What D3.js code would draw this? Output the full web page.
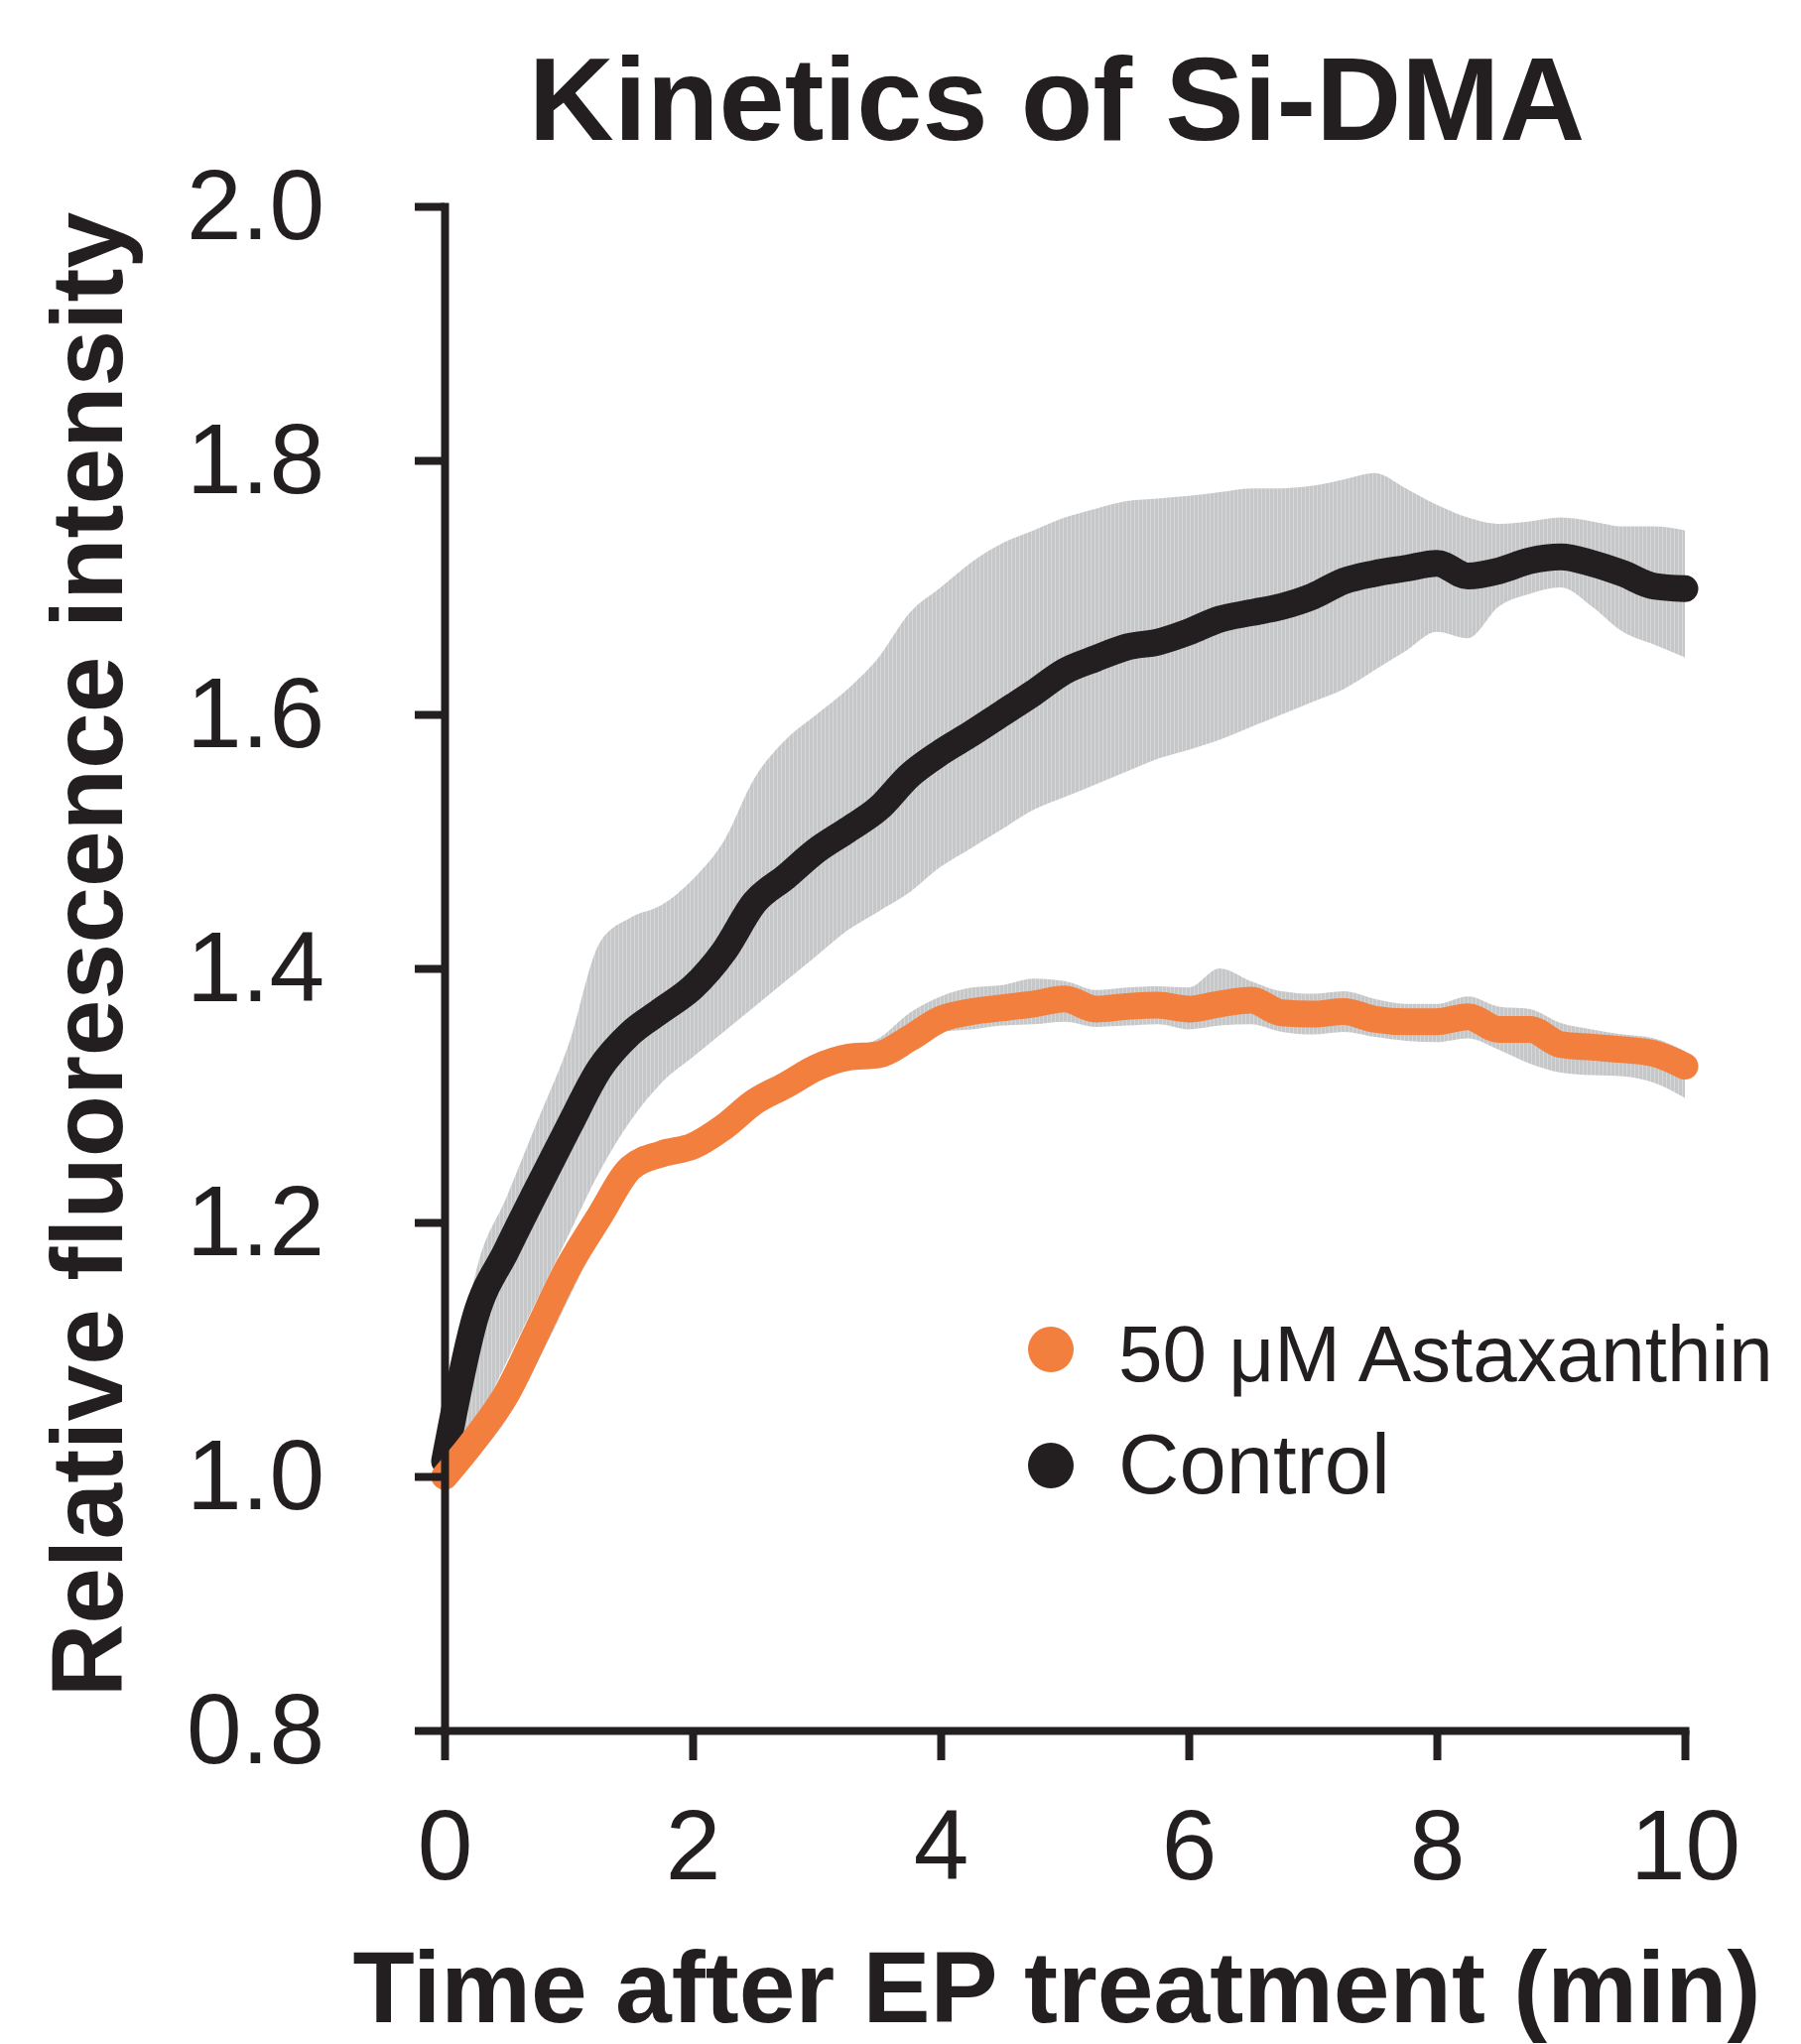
<!DOCTYPE html>
<html>
<head>
<meta charset="utf-8">
<script src="https://cdn.jsdelivr.net/npm/d3@7"></script>
<style>
  body { margin: 0; background: #fff; }
  text { font-family: "Liberation Sans", Arial, Helvetica, sans-serif; fill: #231f20; }
</style>
</head>
<body>
<div id="chart"></div>
<script>
// tempo (min)
const tempos = [0, 0.25, 0.5, 0.75, 1, 1.25, 1.5, 1.75, 2, 2.25, 2.5, 2.75, 3, 3.25, 3.5, 3.75, 4, 4.25, 4.5, 4.75,
  5, 5.25, 5.5, 5.75, 6, 6.25, 6.5, 6.75, 7, 7.25, 7.5, 7.75, 8, 8.25, 8.5, 8.75, 9, 9.25, 9.5, 9.75, 10];

// controle: media, limite superior, limite inferior
const controleMedia = [1.012, 1.126, 1.178, 1.227, 1.275, 1.321, 1.349, 1.367, 1.385, 1.413, 1.452, 1.472, 1.493, 1.509, 1.526, 1.552, 1.570, 1.585, 1.601, 1.617,
  1.634, 1.644, 1.653, 1.657, 1.665, 1.675, 1.680, 1.685, 1.693, 1.705, 1.711, 1.715, 1.719, 1.709, 1.713, 1.721, 1.724, 1.719, 1.711, 1.701, 1.699];
const controleSup = [1.02, 1.16, 1.22, 1.28, 1.34, 1.42, 1.44, 1.45, 1.47, 1.50, 1.55, 1.58, 1.60, 1.62, 1.645, 1.68, 1.70, 1.72, 1.735, 1.745,
  1.755, 1.762, 1.768, 1.770, 1.772, 1.775, 1.778, 1.778, 1.780, 1.785, 1.790, 1.778, 1.765, 1.755, 1.75, 1.752, 1.755, 1.752, 1.748, 1.748, 1.745];
const controleInf = [1.00, 1.04, 1.09, 1.14, 1.19, 1.24, 1.28, 1.31, 1.33, 1.35, 1.37, 1.39, 1.41, 1.43, 1.445, 1.46, 1.48, 1.495, 1.51, 1.525,
  1.535, 1.545, 1.555, 1.565, 1.572, 1.58, 1.59, 1.60, 1.61, 1.62, 1.635, 1.65, 1.665, 1.66, 1.685, 1.695, 1.70, 1.685, 1.665, 1.655, 1.645];

// 50 uM astaxantina
const astaMedia = [1.00, 1.03, 1.065, 1.115, 1.165, 1.205, 1.243, 1.254, 1.26, 1.275, 1.295, 1.308, 1.322, 1.33, 1.332, 1.345, 1.36, 1.366, 1.369, 1.372,
  1.376, 1.368, 1.37, 1.371, 1.368, 1.372, 1.375, 1.365, 1.364, 1.366, 1.36, 1.358, 1.358, 1.362, 1.352, 1.352, 1.34, 1.338, 1.336, 1.333, 1.323];
const astaSup = [1.005, 1.04, 1.075, 1.12, 1.17, 1.21, 1.248, 1.26, 1.265, 1.282, 1.302, 1.315, 1.33, 1.338, 1.345, 1.365, 1.378, 1.385, 1.387, 1.392,
  1.39, 1.383, 1.385, 1.386, 1.385, 1.40, 1.39, 1.382, 1.38, 1.382, 1.376, 1.372, 1.372, 1.378, 1.37, 1.368, 1.357, 1.352, 1.348, 1.345, 1.335];
const astaInf = [0.995, 1.015, 1.045, 1.09, 1.14, 1.19, 1.235, 1.248, 1.255, 1.268, 1.288, 1.302, 1.315, 1.322, 1.325, 1.338, 1.35, 1.352, 1.355, 1.356,
  1.358, 1.354, 1.355, 1.356, 1.352, 1.355, 1.356, 1.35, 1.348, 1.35, 1.346, 1.343, 1.342, 1.345, 1.336, 1.325, 1.318, 1.316, 1.315, 1.31, 1.298];

const ticksX = [0, 2, 4, 6, 8, 10];
const ticksY = [0.8, 1.0, 1.2, 1.4, 1.6, 1.8, 2.0];
const legendas = ["50 μM Astaxanthin", "Control"];
const cores = ["#f27f3d", "#231f20"];

const width = 1815, height = 2060;
const svg = d3.select("#chart").append("svg")
  .attr("width", width).attr("height", height);

const x = d3.scaleLinear().domain([0, 10]).range([448, 1698]);
const y = d3.scaleLinear().domain([0.8, 2.0]).range([1744, 208]);

const controle = tempos.map((t, i) => ({ t, m: controleMedia[i], s: controleSup[i], inf: controleInf[i] }));
const asta = tempos.map((t, i) => ({ t, m: astaMedia[i], s: astaSup[i], inf: astaInf[i] }));

// textura das barras de erro
const defs = svg.append("defs");
const pat = defs.append("pattern").attr("id", "barras")
  .attr("patternUnits", "userSpaceOnUse").attr("width", 4).attr("height", 10);
pat.append("rect").attr("width", 4).attr("height", 10).attr("fill", "#c6c7c9");
pat.append("rect").attr("x", 3).attr("width", 1).attr("height", 10).attr("fill", "#d6d7d9");

const area = d3.area().x(d => x(d.t)).y0(d => y(d.inf)).y1(d => y(d.s)).curve(d3.curveMonotoneX);
const linha = d3.line().x(d => x(d.t)).y(d => y(d.m)).curve(d3.curveMonotoneX);

svg.append("path").datum(controle).attr("d", area).attr("fill", "url(#barras)");
svg.append("path").datum(asta).attr("d", area).attr("fill", "url(#barras)");

svg.append("path").datum(controle).attr("d", linha)
  .attr("fill", "none").attr("stroke", cores[1]).attr("stroke-width", 27)
  .attr("stroke-linecap", "round").attr("stroke-linejoin", "round");
svg.append("path").datum(asta).attr("d", linha)
  .attr("fill", "none").attr("stroke", cores[0]).attr("stroke-width", 27)
  .attr("stroke-linecap", "round").attr("stroke-linejoin", "round");

// eixos
const eixoY = svg.append("g").attr("transform", "translate(448,0)")
  .call(d3.axisLeft(y).tickValues(ticksY).tickFormat(d3.format(".1f")).tickSize(30).tickSizeOuter(0).tickPadding(91));
const eixoX = svg.append("g").attr("transform", "translate(0,1744)")
  .call(d3.axisBottom(x).tickValues(ticksX).tickFormat(d3.format("d")).tickSize(30).tickSizeOuter(0).tickPadding(49));

[eixoY, eixoX].forEach(g => {
  g.select(".domain").attr("stroke", "#231f20").attr("stroke-width", 8).attr("stroke-linecap", "square");
  g.selectAll(".tick line").attr("stroke", "#231f20").attr("stroke-width", 8);
  g.selectAll(".tick text").attr("font-size", 100).attr("font-family", "Liberation Sans, Arial, sans-serif").attr("fill", "#231f20");
});

// titulos
svg.append("text")
  .attr("x", 1065).attr("y", 141)
  .attr("text-anchor", "middle")
  .style("font-size", "119px").style("font-weight", "bold")
  .text("Kinetics of Si-DMA");

svg.append("text")
  .attr("x", 1065).attr("y", 2038)
  .attr("text-anchor", "middle")
  .style("font-size", "102px").style("font-weight", "bold")
  .text("Time after EP treatment (min)");

svg.append("text")
  .attr("transform", "translate(123,962) rotate(-90)")
  .attr("text-anchor", "middle")
  .style("font-size", "102px").style("font-weight", "bold")
  .text("Relative fluorescence intensity");

// legenda
const leg = svg.append("g");
legendas.forEach((nome, i) => {
  const cy = [1360, 1477][i];
  leg.append("circle").attr("cx", 1059).attr("cy", cy).attr("r", 23).attr("fill", cores[i]);
  leg.append("text").attr("x", 1127).attr("y", cy + [32, 28][i])
    .style("font-size", i === 0 ? "80px" : "85px").text(nome);
});
</script>
</body>
</html>
